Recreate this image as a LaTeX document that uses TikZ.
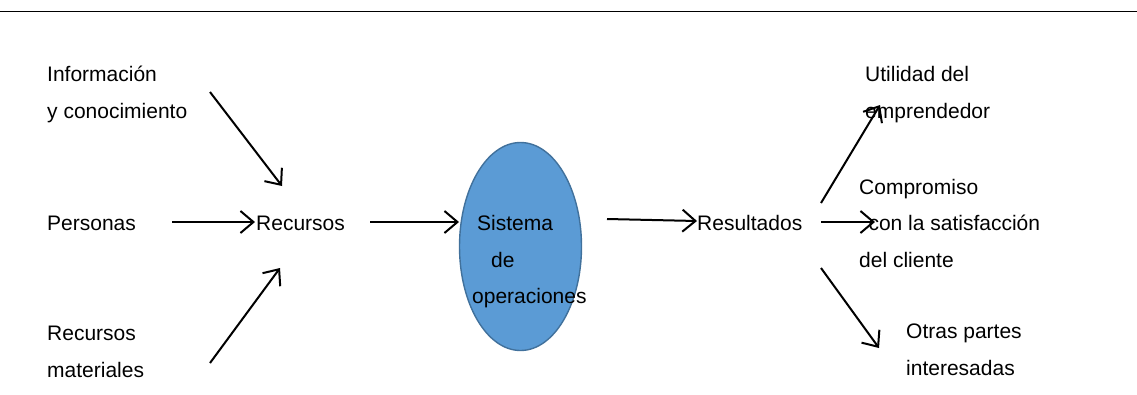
\documentclass[tikz,border=0pt]{standalone}
\usepackage{fontspec}
\setmainfont{Liberation Sans}
\usetikzlibrary{arrows.meta,shapes.geometric}
\definecolor{ellfill}{HTML}{5B9BD5}
\definecolor{elldraw}{HTML}{41719C}
\tikzset{
  lbl/.style={anchor=base west, inner sep=0pt, align=left, font=\fontsize{21}{36.5}\selectfont},
  arr/.style={line width=2pt, -{Straight Barb[length=13pt,width=22pt,line width=2pt]}},
  opsys/.style={ellipse, draw=elldraw, fill=ellfill, line width=1.4pt, minimum width=122pt, minimum height=208pt, inner sep=0pt}
}
\begin{document}
\begin{tikzpicture}[x=1pt,y=-1pt]
\useasboundingbox (0,0) rectangle (1137,394);
\draw[line width=1pt] (0,11.5) -- (1137,11.5);
\node[opsys] (sys) at (520.5,246.5) {};
% multi-line labels: base anchor = baseline of last line
\node[lbl] (info) at (47,118) {Información\\y conocimiento};
\node[lbl] (pers) at (47,230) {Personas};
\node[lbl] (mat) at (47,377) {Recursos\\materiales};
\node[lbl] (rec) at (256,230) {Recursos};
\node[lbl] (sis1) at (477,230) {Sistema};
\node[lbl] (sis2) at (491,267) {de};
\node[lbl] (sis3) at (472,303) {operaciones};
\node[lbl] (res) at (697,230) {Resultados};
\node[lbl] (util) at (865,118) {Utilidad del\\emprendedor};
\node[lbl] (comp) at (859,267) {Compromiso\\\ \,con la satisfacción\\del cliente};
\node[lbl] (otras) at (906,375) {Otras partes\\interesadas};
% arrow ends
\coordinate (a1s) at (210,92);   \coordinate (a1e) at (282,186);
\coordinate (a2s) at (172,222);  \coordinate (a2e) at (255,222);
\coordinate (a3s) at (210,363);  \coordinate (a3e) at (280,268);
\coordinate (a4s) at (370,222);  \coordinate (a4e) at (459,222);
\coordinate (a5s) at (607,219);  \coordinate (a5e) at (697,221);
\coordinate (a6s) at (821,203);  \coordinate (a6e) at (880,105);
\coordinate (a7s) at (821,222);  \coordinate (a7e) at (875,222);
\coordinate (a8s) at (821,268);  \coordinate (a8e) at (879,348);
\draw[arr] (a1s) -- (a1e);
\draw[arr] (a2s) -- (a2e);
\draw[arr] (a3s) -- (a3e);
\draw[arr] (a4s) -- (a4e);
\draw[arr] (a5s) -- (a5e);
\draw[arr] (a6s) -- (a6e);
\draw[arr] (a7s) -- (a7e);
\draw[arr] (a8s) -- (a8e);
\end{tikzpicture}
\end{document}
